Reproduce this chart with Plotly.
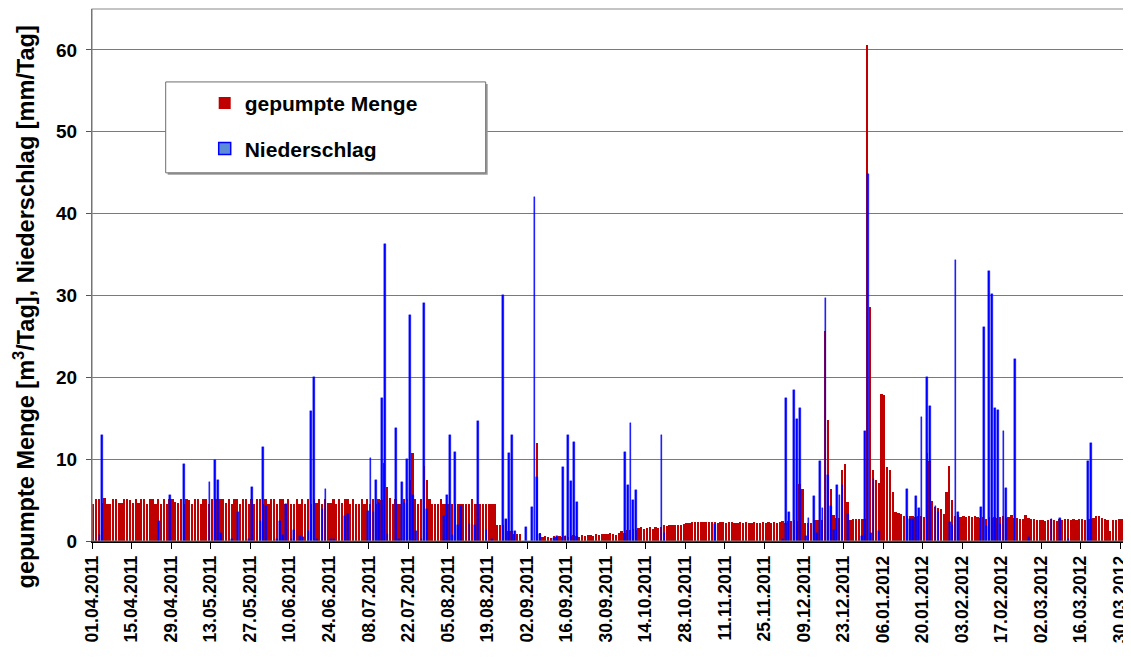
import pandas as pd
import plotly.graph_objects as go

start_date = "2011-04-01"

# gepumpte Menge [m3/Tag], one value per day from 01.04.2011
pumped = [
    4.5, 5.1, 5.1, 4.6, 5.2, 4.5, 4.5, 5.1, 5.1, 4.6,
    4.6, 5.1, 5.1, 5.0, 4.6, 5.1, 4.6, 5.1, 5.1, 4.5,
    5.1, 5.1, 4.5, 5.1, 4.5, 5.1, 4.5, 5.1, 5.1, 4.8,
    4.6, 5.1, 4.5, 5.1, 5.0, 4.5, 5.1, 5.1, 4.5, 5.1,
    5.1, 4.5, 5.1, 5.1, 5.1, 5.1, 5.1, 4.6, 5.1, 4.5,
    5.1, 5.1, 4.5, 5.1, 5.1, 4.5, 5.1, 4.5, 5.1, 5.1,
    4.5, 5.1, 4.5, 5.1, 5.1, 4.5, 5.1, 5.1, 4.5, 5.1,
    4.5, 4.5, 5.1, 4.5, 5.1, 4.5, 5.1, 4.5, 5.1, 4.6,
    5.1, 4.5, 5.1, 4.6, 4.6, 5.1, 4.5, 5.1, 4.6, 5.1,
    5.1, 4.5, 5.1, 4.5, 4.5, 5.1, 4.5, 5.1, 4.5, 5.1,
    4.5, 5.1, 5.0, 9.5, 6.6, 5.3, 4.5, 5.1, 4.5, 4.5,
    5.1, 5.1, 7.4, 10.8, 5.1, 4.5, 5.1, 9.2, 7.4, 5.1,
    4.5, 4.5, 4.5, 5.1, 4.5, 4.5, 4.5, 4.5, 4.5, 4.5,
    4.5, 4.5, 4.5, 4.5, 5.1, 4.5, 4.5, 4.5, 4.5, 4.5,
    4.5, 4.5, 4.5, 2.0, 2.0, 2.0, 2.7, 1.2, 1.2, 0.9,
    0.9, 0.9, 0.0, 0.0, 0.0, 0.0, 0.0, 12.0, 1.0, 0.5,
    0.6, 0.5, 0.4, 0.6, 0.5, 0.6, 0.5, 0.6, 0.5, 0.6,
    0.7, 0.6, 0.5, 0.7, 0.6, 0.7, 0.7, 0.6, 0.8, 0.7,
    0.8, 0.9, 0.8, 1.0, 0.9, 0.7, 1.0, 1.2, 1.0, 1.4,
    1.4, 1.5, 1.4, 1.6, 1.7, 1.5, 1.6, 1.7, 1.5, 1.7,
    1.6, 1.7, 1.9, 1.8, 2.0, 1.9, 1.9, 2.0, 1.9, 2.1,
    2.2, 2.2, 2.3, 2.3, 2.3, 2.3, 2.3, 2.3, 2.3, 2.3,
    2.3, 2.2, 2.3, 2.3, 2.2, 2.3, 2.3, 2.2, 2.2, 2.3,
    2.2, 2.3, 2.2, 2.2, 2.3, 2.2, 2.2, 2.3, 2.2, 2.3,
    2.2, 2.3, 2.2, 2.3, 2.4, 2.2, 2.4, 2.4, 2.6, 2.4,
    7.0, 6.4, 2.2, 2.2, 2.2, 2.6, 2.6, 2.6, 2.6, 25.6,
    14.8, 6.3, 3.2, 2.8, 2.8, 8.7, 9.35, 4.75, 2.6, 2.7,
    2.7, 2.7, 2.7, 2.7, 60.6, 28.6, 8.7, 7.5, 7.1, 18.0,
    17.8, 9.1, 8.7, 6.0, 3.6, 3.4, 3.3, 3.1, 3.1, 3.0,
    3.0, 2.9, 3.0, 3.0, 2.9, 10.8, 9.8, 4.85, 4.2, 4.0,
    3.85, 3.3, 6.0, 9.15, 5.0, 3.0, 3.2, 2.9, 3.0, 2.9,
    3.0, 2.9, 3.0, 2.9, 2.8, 2.9, 2.7, 2.9, 2.8, 2.9,
    2.8, 2.9, 3.0, 2.8, 2.9, 3.2, 2.8, 2.8, 2.7, 2.7,
    3.2, 2.8, 2.7, 2.7, 2.6, 2.6, 2.6, 2.5, 2.6, 2.7,
    2.6, 2.5, 2.7, 2.6, 2.7, 2.7, 2.6, 2.7, 2.6, 2.7,
    2.7, 2.6, 2.7, 2.7, 2.8, 3.0, 3.0, 2.8, 2.7, 2.6,
    1.2, 2.6, 2.6, 2.7, 2.7, 2.7,
]

# Niederschlag [mm/Tag]: days (counted from 01.04.2011) with precipitation
precip_day = [
    2, 3, 23, 27, 32, 41, 43, 44, 45, 49, 51, 55, 56, 59, 60, 61, 65, 66, 67, 68,
    70, 71, 73, 74, 76, 77, 78, 79, 81, 82, 84, 85, 89, 90, 97, 98, 99, 100, 101, 102,
    103, 104, 107, 108, 109, 110, 111, 112, 113, 114, 116, 117, 118, 124, 125, 126, 127, 128, 129, 130,
    133, 135, 136, 139, 141, 145, 146, 147, 148, 149, 153, 155, 156, 157, 158, 163, 164, 166, 167, 168,
    169, 170, 171, 188, 189, 190, 191, 192, 201, 202, 220, 244, 245, 246, 248, 249, 250, 252, 253, 255,
    256, 257, 258, 259, 260, 261, 262, 263, 264, 265, 267, 272, 273, 274, 275, 276, 278, 288, 289, 290,
    291, 292, 293, 295, 296, 298, 299, 303, 304, 305, 306, 314, 315, 316, 317, 318, 319, 320, 321, 322,
    323, 326, 331, 339, 342, 345, 352, 353,
]
precip_mm = [
    0.75, 13.0, 2.4, 5.56, 9.35, 7.2, 9.9, 7.5, 0.95, 0.2, 3.5, 0.2, 6.6, 2.45, 11.5, 4.25, 0.2, 2.4, 0.7, 4.5,
    0.2, 1.4, 0.6, 0.5, 1.2, 15.9, 20.0, 0.2, 3.85, 6.3, 0.2, 0.3, 3.1, 3.3, 3.7, 10.1, 3.5, 7.5, 4.6, 17.5,
    36.3, 0.9, 13.8, 0.2, 7.2, 4.65, 10.0, 27.6, 5.6, 1.2, 0.3, 29.1, 3.95, 3.1, 5.65, 13.0, 0.7, 10.9, 2.0, 4.25,
    2.05, 2.0, 14.7, 1.4, 0.2, 30.0, 2.7, 10.7, 12.9, 1.2, 1.7, 4.1, 42.0, 7.8, 0.8, 0.4, 0.6, 9.0, 0.6, 12.9,
    7.3, 12.1, 4.8, 10.9, 6.8, 14.4, 4.95, 6.2, 13.0, 1.0, 2.1, 0.2, 17.5, 3.6, 18.4, 14.85, 16.3, 0.6, 2.8, 5.5,
    1.0, 9.8, 4.05, 29.7, 8.05, 4.3, 1.3, 6.8, 5.6, 6.8, 3.3, 0.6, 13.4, 44.8, 1.0, 7.6, 1.2, 6.3, 2.7, 2.7,
    5.5, 4.0, 15.1, 20.0, 16.5, 4.3, 3.5, 2.3, 2.0, 34.3, 3.5, 4.2, 26.2, 1.8, 33.0, 30.2, 16.2, 16.0, 2.1, 13.5,
    6.5, 22.2, 0.5, 2.7, 2.8, 0.3, 9.8, 12.0,
]

y_ticks = [0, 10, 20, 30, 40, 50, 60]

DAY = 86400000
start = pd.Timestamp(start_date)
pump_dates = pd.date_range(start, periods=len(pumped), freq="D")
precip_dates = [start + pd.Timedelta(days=d) for d in precip_day]
end = pump_dates[-1] + pd.Timedelta(days=1)

FONT = "Liberation Sans, Arial, sans-serif"

fig = go.Figure()
fig.add_trace(go.Bar(
    x=pump_dates, y=pumped, name="<b>gepumpte Menge</b>",
    marker=dict(color="#C00000", line=dict(width=0)),
    width=0.8 * DAY, offset=0.05 * DAY, legendgroup="a",
))
fig.add_trace(go.Bar(
    x=precip_dates, y=precip_mm, name="<b>Niederschlag</b>",
    marker=dict(color="#0000FF", line=dict(color="#0000FF", width=0.4)),
    width=0.62 * DAY, offset=0.3 * DAY, legendgroup="b", showlegend=False,
))
# legend entry for Niederschlag (same series, legend swatch style of the original)
fig.add_trace(go.Bar(
    x=[None], y=[None], name="<b>Niederschlag</b>",
    marker=dict(color="#5B8BD9", line=dict(color="#0000FF", width=1.5)),
    legendgroup="b", showlegend=True,
))

# The page body has an 8 px margin; the figure is sized/offset so that the plot
# area lands at these page pixel coordinates.
OFF = 8
L, R, T, B = 92.3, 1126.3, 9.0, 541.5
FIG_W, FIG_H = 1131 - OFF, 668 - 2 * OFF

def px(xp):
    return (xp - L) / (R - L)

def py(yp):
    return (B - yp) / (B - T)

shapes = [
    # legend box shadow and box
    dict(type="rect", xref="paper", yref="paper", x0=px(168), x1=px(488), y0=py(175), y1=py(84),
         fillcolor="#9a9a9a", line=dict(width=0), layer="above"),
    dict(type="rect", xref="paper", yref="paper", x0=px(166), x1=px(486), y0=py(173), y1=py(82),
         fillcolor="white", line=dict(color="#6e6e6e", width=1), layer="above"),
    # plot-area border
    dict(type="rect", xref="paper", yref="paper", x0=0, x1=1, y0=0, y1=1,
         line=dict(color="#8a8a8a", width=1.2), layer="above"),
]

fig.update_layout(
    width=FIG_W, height=FIG_H,
    margin=dict(l=L - OFF, r=FIG_W - (R - OFF), t=T - OFF, b=FIG_H - (B - OFF), autoexpand=False),
    paper_bgcolor="white", plot_bgcolor="white",
    barmode="overlay", bargap=0,
    font=dict(family=FONT, color="black"),
    shapes=shapes,
    showlegend=True,
    legend=dict(
        x=px(205), y=py(83), xanchor="left", yanchor="top",
        bgcolor="rgba(0,0,0,0)", borderwidth=0,
        font=dict(family=FONT, size=21, color="black"),
        tracegroupgap=15, traceorder="grouped",
    ),
    annotations=[dict(
        text="<b>gepumpte Menge [m<sup>3</sup>/Tag], Niederschlag [mm/Tag]</b>",
        xref="paper", yref="paper", x=px(24), y=py(307), textangle=-90,
        showarrow=False, xanchor="center", yanchor="middle",
        font=dict(family=FONT, size=23.5, color="black"),
    )],
)

fig.update_xaxes(
    type="date", range=[start, end],
    tick0=start, dtick=14 * DAY, tickformat="<b>%d.%m.%Y</b>",
    tickangle=-90, tickfont=dict(family=FONT, size=17.5, color="black"),
    ticks="outside", ticklen=6, tickcolor="black", tickwidth=1,
    showline=True, linecolor="black", linewidth=1.5,
    showgrid=False, zeroline=False,
)
fig.update_yaxes(
    range=[0, 65], tickvals=y_ticks, ticktext=[f"<b>{v}</b>" for v in y_ticks],
    tickfont=dict(family=FONT, size=19, color="black"),
    ticks="outside", ticklen=5, tickcolor="#555555", ticklabelstandoff=5,
    showline=True, linecolor="#555555", linewidth=1,
    showgrid=True, gridcolor="#7a7a7a", gridwidth=1,
    zeroline=False,
)

fig.write_html("out.html")
